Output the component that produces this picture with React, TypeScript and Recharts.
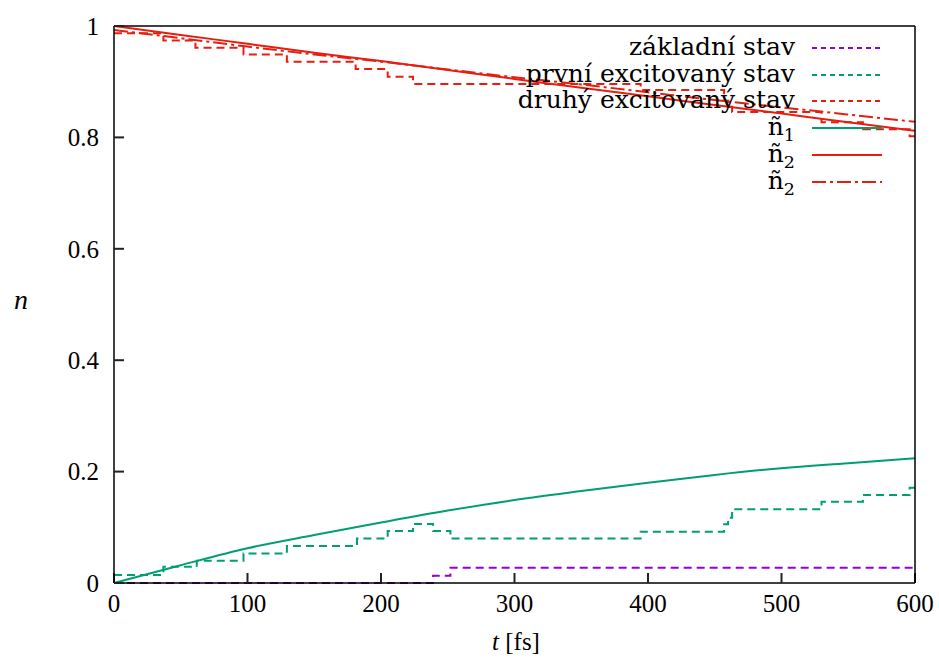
import React from 'react';
import { LineChart, Line, XAxis, YAxis } from 'recharts';

// occupation of states, t in fs
const groundT = [0, 239, 252, 600];
const groundN = [0, 0.013, 0.0275, 0.0275];

const firstT = [0, 37, 62, 97, 129.5, 182, 205, 224, 239, 252, 394.5, 457, 460, 463, 530, 561, 596, 600];
const firstN = [0.0144, 0.029, 0.04, 0.053, 0.0665, 0.08, 0.0935, 0.106, 0.0935, 0.08, 0.092, 0.1055, 0.117, 0.1325, 0.1457, 0.158, 0.171, 0.171];

const secondT = [0, 37, 61, 97, 129.5, 181, 205, 224, 239, 252, 394.5, 457, 460, 463, 530, 561, 596, 600];
const secondN = [0.987, 0.974, 0.961, 0.949, 0.936, 0.9227, 0.909, 0.896, 0.896, 0.896, 0.885, 0.866, 0.855, 0.8456, 0.827, 0.8145, 0.802, 0.802];

const smoothT = [0, 50, 100, 150, 200, 250, 300, 350, 400, 450, 500, 550, 600];
const n1Tilde = [0, 0.032, 0.0624, 0.086, 0.1085, 0.13, 0.149, 0.165, 0.18, 0.194, 0.206, 0.215, 0.224];
const n2Tilde = [1, 0.984, 0.968, 0.952, 0.937, 0.921, 0.905, 0.889, 0.874, 0.858, 0.843, 0.827, 0.812];
const n2Alt = [0.993, 0.978, 0.963, 0.949, 0.936, 0.922, 0.908, 0.895, 0.881, 0.867, 0.854, 0.841, 0.828];

const xTicks = [0, 100, 200, 300, 400, 500, 600];
const yTicks = [0, 0.2, 0.4, 0.6, 0.8, 1];

const PURPLE = '#9400d3';
const GREEN = '#009e73';
const RED = '#e51e10';
const TICK_LEN = 10;

const zip = (ts: number[], ns: number[]) => ts.map((t, i) => ({ t, n: ns[i] }));

const tickLineStyle = { stroke: '#222', strokeWidth: 2 };
const borderStyle = { stroke: '#000', strokeWidth: 1.5 };
const tickFont = { fontSize: 25, fill: '#000' };

const dashed = (c: string) => `repeating-linear-gradient(to right, ${c} 0 5px, transparent 5px 9px)`;
const dashDot = (c: string) =>
    `repeating-linear-gradient(to right, ${c} 0 14px, transparent 14px 18px, ${c} 18px 21px, transparent 21px 25px)`;

const Sub = ({ children }: any) => (
    <span style={{ fontSize: '0.7em', verticalAlign: '-0.35em' }}>{children}</span>
);

const legendRows = [
    { label: <>základní stav</>, bg: dashed(PURPLE) },
    { label: <>první excitovaný stav</>, bg: dashed(GREEN) },
    { label: <>druhý excitovaný stav</>, bg: dashed(RED) },
    { label: <>ñ<Sub>1</Sub></>, bg: GREEN },
    { label: <>ñ<Sub>2</Sub></>, bg: RED },
    { label: <>ñ<Sub>2</Sub></>, bg: dashDot(RED) },
];

const App: React.FC = () => {
    return (
        <div style={{ position: 'absolute', left: 0, top: 0, width: 939, height: 662, background: '#fff' }}>
            <LineChart width={939} height={662} margin={{ top: 0, right: 0, bottom: 39, left: 54 }}>
                <XAxis
                    dataKey="t"
                    type="number"
                    domain={[0, 600]}
                    ticks={xTicks}
                    height={40}
                    tickSize={-TICK_LEN}
                    tickMargin={TICK_LEN + 11}
                    tickLine={tickLineStyle}
                    axisLine={borderStyle}
                    tick={tickFont}
                />
                <XAxis
                    xAxisId="top"
                    orientation="top"
                    type="number"
                    domain={[0, 600]}
                    ticks={xTicks}
                    height={26}
                    tickSize={-TICK_LEN}
                    tickLine={tickLineStyle}
                    axisLine={borderStyle}
                    tick={false}
                />
                <YAxis
                    type="number"
                    domain={[0, 1]}
                    ticks={yTicks}
                    width={60}
                    tickSize={-TICK_LEN}
                    tickMargin={TICK_LEN + 15}
                    tickLine={tickLineStyle}
                    axisLine={borderStyle}
                    tick={tickFont}
                />
                <YAxis
                    yAxisId="right"
                    orientation="right"
                    type="number"
                    domain={[0, 1]}
                    ticks={yTicks}
                    width={24}
                    tickSize={-TICK_LEN}
                    tickLine={tickLineStyle}
                    axisLine={borderStyle}
                    tick={false}
                />
                <Line data={zip(groundT, groundN)} dataKey="n" type="stepAfter" stroke={PURPLE} strokeWidth={2} strokeDasharray="8 5" dot={false} isAnimationActive={false} />
                <Line data={zip(firstT, firstN)} dataKey="n" type="stepAfter" stroke={GREEN} strokeWidth={2} strokeDasharray="8 5" dot={false} isAnimationActive={false} />
                <Line data={zip(secondT, secondN)} dataKey="n" type="stepAfter" stroke={RED} strokeWidth={2} strokeDasharray="8 5" dot={false} isAnimationActive={false} />
                <Line data={zip(smoothT, n1Tilde)} dataKey="n" type="monotone" stroke={GREEN} strokeWidth={2} dot={false} isAnimationActive={false} />
                <Line data={zip(smoothT, n2Tilde)} dataKey="n" type="monotone" stroke={RED} strokeWidth={2} dot={false} isAnimationActive={false} />
                <Line data={zip(smoothT, n2Alt)} dataKey="n" type="monotone" stroke={RED} strokeWidth={2} strokeDasharray="14 4 3 4" dot={false} isAnimationActive={false} />
            </LineChart>

            {/* axis titles */}
            <div style={{ position: 'absolute', left: 14, top: 284, fontSize: 28, fontStyle: 'italic', fontFamily: '"Liberation Serif", serif' }}>n</div>
            <div style={{ position: 'absolute', left: 416, width: 200, top: 628, fontSize: 25, textAlign: 'center', fontFamily: '"Liberation Serif", serif' }}>
                <i>t</i> [fs]
            </div>

            {/* key */}
            {legendRows.map((row, i) => {
                const cy = 48 + i * 26.7;
                return (
                    <div key={i}>
                        <div
                            style={{
                                position: 'absolute',
                                left: 295,
                                width: 500,
                                top: cy - 16,
                                height: 30,
                                lineHeight: '30px',
                                textAlign: 'right',
                                fontSize: 25,
                                fontFamily: '"DejaVu Serif", serif',
                                whiteSpace: 'nowrap',
                            }}
                        >
                            {row.label}
                        </div>
                        <div style={{ position: 'absolute', left: 812, top: cy - 1, width: 70, height: 2, background: row.bg }} />
                    </div>
                );
            })}
        </div>
    );
};

export default App;
